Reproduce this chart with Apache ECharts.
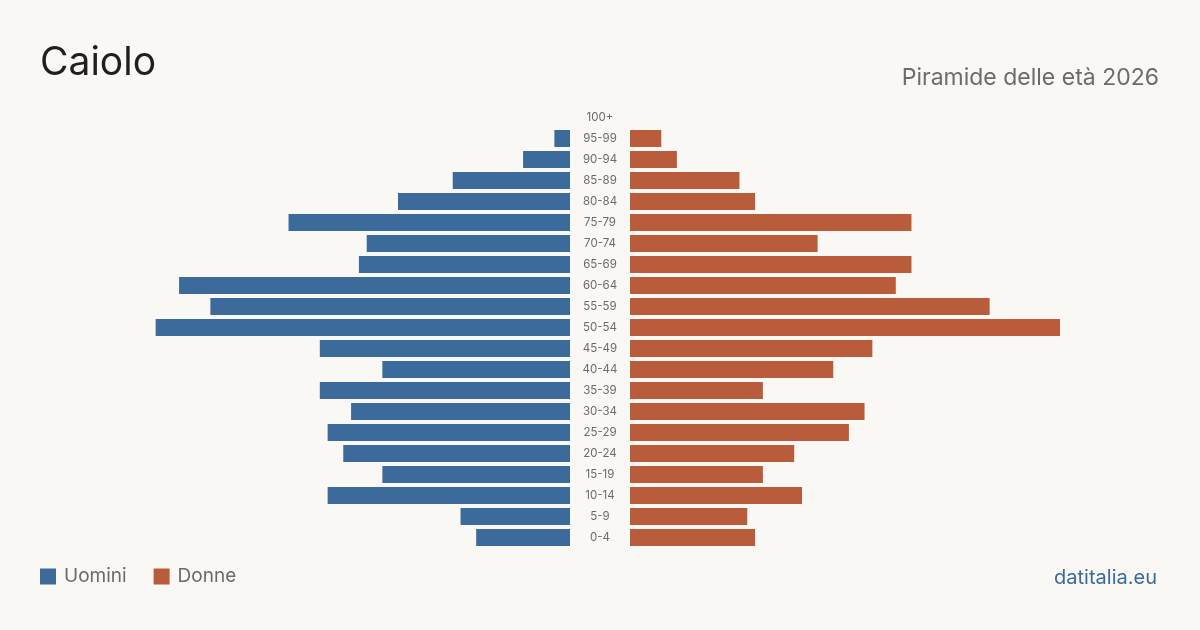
<!DOCTYPE html>
<html>
<head>
<meta charset="utf-8">
<script src="https://cdn.jsdelivr.net/npm/echarts@6/dist/echarts.min.js"></script>
<style>
  html, body { margin: 0; padding: 0; background: #f9f8f4; }
  #chart { width: 1200px; height: 630px; }
</style>
</head>
<body>
<div id="chart"></div>
<script>
// classi di età, dal basso verso l'alto
var ageGroups = ['0-4','5-9','10-14','15-19','20-24','25-29','30-34','35-39','40-44','45-49',
  '50-54','55-59','60-64','65-69','70-74','75-79','80-84','85-89','90-94','95-99','100+'];
var uomini = [12,14,31,24,29,31,28,32,24,32,53,46,50,27,26,36,22,15,6,2,0];
var donne  = [16,15,22,17,21,28,30,17,26,31,55,46,34,36,24,36,16,14,6,4,0];
var axisMax = 55;

var blue = '#3b6a9b';
var orange = '#b95c3c';
var font = 'Inter, "Noto Sans", sans-serif';

var chart = echarts.init(document.getElementById('chart'));

chart.setOption({
  backgroundColor: '#f9f8f4',
  animation: false,
  textStyle: { fontFamily: font },
  title: [
    { text: 'Caiolo', left: 35, top: 39,
      textStyle: { fontSize: 39, fontWeight: 'normal', color: '#1f1f1f', fontFamily: font } },
    { text: 'Piramide delle età 2026', right: 36, top: 62,
      textStyle: { fontSize: 23, fontWeight: 'normal', color: '#6b6b6b', fontFamily: font } },
    { text: 'datitalia.eu', right: 38, top: 563,
      textStyle: { fontSize: 20, fontWeight: 'normal', color: '#3b6a9b', fontFamily: font } }
  ],
  legend: {
    left: 35, top: 562,
    itemWidth: 16, itemHeight: 16, itemGap: 27,
    icon: 'rect',
    textStyle: { fontSize: 19, color: '#6b6b6b', fontFamily: font, padding: [0, 0, 0, 3] },
    data: ['Uomini', 'Donne']
  },
  grid: [
    { left: 140, right: 630, top: 107, height: 441 },
    { left: 630, right: 140, top: 107, height: 441 }
  ],
  xAxis: [
    { type: 'value', gridIndex: 0, inverse: true, min: 0, max: axisMax, show: false },
    { type: 'value', gridIndex: 1, min: 0, max: axisMax, show: false }
  ],
  yAxis: [
    { type: 'category', gridIndex: 0, data: ageGroups, position: 'right',
      axisLine: { show: false }, axisTick: { show: false },
      axisLabel: { show: true, margin: 30, align: 'center', fontSize: 11.5, color: '#6b6b6b', fontFamily: font } },
    { type: 'category', gridIndex: 1, data: ageGroups,
      axisLine: { show: false }, axisTick: { show: false }, axisLabel: { show: false } }
  ],
  series: [
    { name: 'Uomini', type: 'bar', xAxisIndex: 0, yAxisIndex: 0, data: uomini,
      barCategoryGap: '19%', itemStyle: { color: blue } },
    { name: 'Donne', type: 'bar', xAxisIndex: 1, yAxisIndex: 1, data: donne,
      barCategoryGap: '19%', itemStyle: { color: orange } }
  ]
});
</script>
</body>
</html>
